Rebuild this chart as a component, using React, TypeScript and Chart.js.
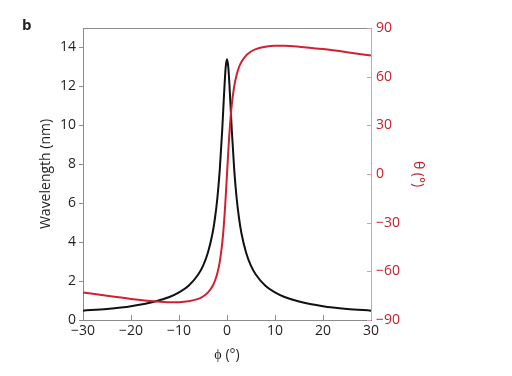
import React, { useEffect, useRef } from 'react';
import { Chart, registerables } from 'chart.js';
Chart.register(...registerables);

const phi = [-30, -25, -20, -15, -12, -10, -8, -6, -5, -4, -3, -2.5, -2, -1.5, -1, -0.75, -0.5, -0.25, 0, 0.25, 0.5, 0.75, 1, 1.5, 2, 2.5, 3, 4, 5, 6, 8, 10, 12, 15, 20, 25, 30];
const wavelength = [0.48, 0.57, 0.71, 0.95, 1.18, 1.42, 1.76, 2.34, 2.78, 3.44, 4.47, 5.24, 6.28, 7.74, 9.75, 10.95, 12.12, 13.04, 13.4, 13.04, 12.12, 10.95, 9.75, 7.74, 6.28, 5.24, 4.47, 3.44, 2.78, 2.34, 1.76, 1.42, 1.18, 0.95, 0.71, 0.57, 0.48];
const theta = [-73.0, -75.1, -77.0, -78.5, -79.0, -79.0, -78.5, -77.0, -75.5, -73.1, -69.0, -65.8, -61.1, -54.0, -42.8, -34.9, -25.0, -13.1, 0, 13.1, 25.0, 34.9, 42.8, 54.0, 61.1, 65.8, 69.0, 73.1, 75.5, 77.0, 78.5, 79.0, 79.0, 78.5, 77.0, 75.1, 73.0];
const xTicks = [-30, -20, -10, 0, 10, 20, 30];
const leftTicks = [0, 2, 4, 6, 8, 10, 12, 14];
const rightTicks = [-90, -60, -30, 0, 30, 60, 90];

const RED = '#cf2231';
const RED_TXT = '#c8202f';
const PINK = '#e49aa0';
const GRAY = '#8c8c8c';
const INK = '#231f20';
const FONT = 'Open Sans';

const minus = (v: any) => String(v).replace('-', '\u2212');

const decor = {
  id: 'decor',
  afterDraw(chart: any) {
    const { ctx, chartArea: a, scales } = chart;
    const p = (v: number) => Math.round(v) + 0.5;
    ctx.save();
    ctx.lineWidth = 1;
    ctx.strokeStyle = GRAY;
    ctx.beginPath();
    ctx.moveTo(a.left, p(a.top));
    ctx.lineTo(a.right, p(a.top));
    for (const v of leftTicks) {
      const y = p(scales.y.getPixelForValue(v));
      ctx.moveTo(a.left - 4, y);
      ctx.lineTo(a.left, y);
    }
    for (const v of xTicks) {
      const x = p(scales.x.getPixelForValue(v));
      ctx.moveTo(x, a.bottom);
      ctx.lineTo(x, a.bottom - 5);
    }
    ctx.stroke();
    ctx.strokeStyle = PINK;
    ctx.beginPath();
    ctx.moveTo(p(a.right), a.top);
    ctx.lineTo(p(a.right), a.bottom);
    for (const v of rightTicks) {
      const y = p(scales.y1.getPixelForValue(v));
      ctx.moveTo(a.right, y);
      ctx.lineTo(a.right - 4, y);
    }
    ctx.stroke();
    ctx.fillStyle = INK;
    ctx.font = `bold 15px ${FONT}`;
    ctx.textBaseline = 'alphabetic';
    ctx.fillText('b', 22, 30);
    ctx.restore();
  },
};

export default function App() {
  const ref = useRef<HTMLCanvasElement>(null);
  useEffect(() => {
    document.body.style.margin = '0';
    const chart = new Chart(ref.current!, {
      type: 'line',
      data: {
        datasets: [
          {
            label: 'theta',
            data: phi.map((x, i) => ({ x, y: theta[i] })),
            yAxisID: 'y1',
            borderColor: RED,
            borderWidth: 2,
            pointRadius: 0,
            cubicInterpolationMode: 'monotone',
          },
          {
            label: 'wavelength',
            data: phi.map((x, i) => ({ x, y: wavelength[i] })),
            yAxisID: 'y',
            borderColor: '#111111',
            borderWidth: 2,
            pointRadius: 0,
            cubicInterpolationMode: 'monotone',
          },
        ],
      },
      options: {
        responsive: false,
        animation: false,
        layout: { padding: { top: 28, left: 0, right: 0, bottom: 0 } },
        plugins: { legend: { display: false }, tooltip: { enabled: false } },
        scales: {
          x: {
            type: 'linear',
            min: -30,
            max: 30,
            afterBuildTicks: (s: any) => { s.ticks = xTicks.map((value) => ({ value })); },
            afterFit: (s: any) => { s.height = 56; },
            grid: { drawOnChartArea: false, drawTicks: false },
            border: { color: GRAY, width: 1 },
            ticks: { color: INK, font: { family: FONT, size: 14 }, padding: 3, callback: minus, maxRotation: 0 },
            title: { display: true, text: '\u03D5 (°)', color: INK, font: { family: FONT, size: 14 }, padding: { top: 0, bottom: 13 } },
          },
          y: {
            type: 'linear',
            position: 'left',
            min: 0,
            max: 15,
            afterBuildTicks: (s: any) => { s.ticks = leftTicks.map((value) => ({ value })); },
            afterFit: (s: any) => { s.width = 83; },
            grid: { drawOnChartArea: false, drawTicks: false },
            border: { color: GRAY, width: 1 },
            ticks: { color: INK, font: { family: FONT, size: 14 }, padding: 7, callback: minus },
            title: { display: true, text: 'Wavelength (nm)', color: INK, font: { family: FONT, size: 14 }, padding: { top: 38, bottom: 0 } },
          },
          y1: {
            type: 'linear',
            position: 'right',
            min: -90,
            max: 90,
            afterBuildTicks: (s: any) => { s.ticks = rightTicks.map((value) => ({ value })); },
            afterFit: (s: any) => { s.width = 141; },
            grid: { drawOnChartArea: false, drawTicks: false },
            border: { display: false },
            ticks: { color: RED_TXT, font: { family: FONT, size: 14 }, padding: 5, callback: minus },
            title: { display: true, text: '\u03B8 (°)', color: RED_TXT, font: { family: FONT, size: 14 }, padding: { top: 86, bottom: 0 } },
          },
        },
      },
      plugins: [decor],
    } as any);
    return () => chart.destroy();
  }, []);
  return <canvas ref={ref} width={512} height={376} style={{ display: 'block' }} />;
}
